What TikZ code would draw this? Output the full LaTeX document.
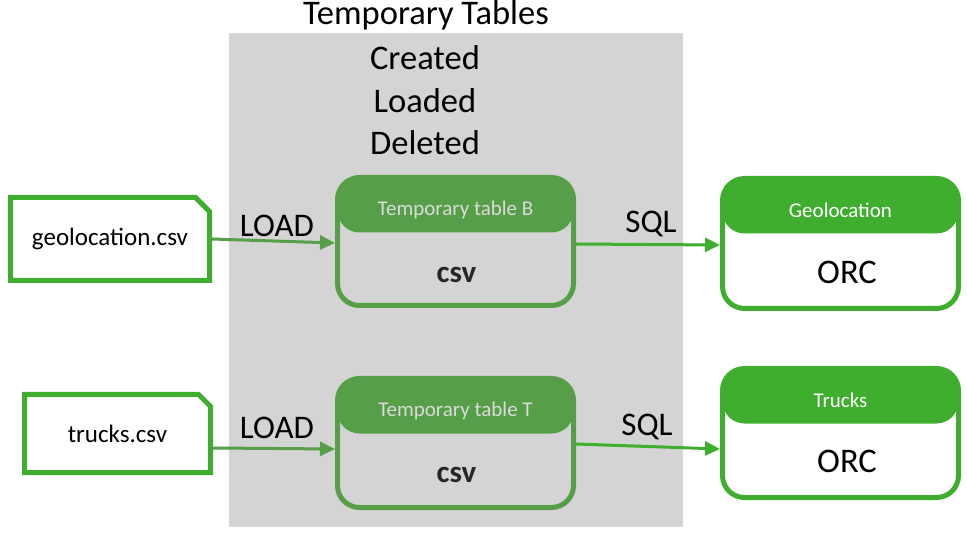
\documentclass[tikz,border=0pt]{standalone}
\usepackage{fontspec}
\setmainfont{Carlito}
\usetikzlibrary{shapes.misc,arrows.meta}
\definecolor{brightgreen}{HTML}{3FAE2E}
\definecolor{mutedgreen}{HTML}{569E48}
\definecolor{panelgray}{HTML}{D4D4D4}
\definecolor{headtext}{HTML}{DADADA}
\tikzset{
  filebox/.style={chamfered rectangle, chamfered rectangle corners=north east,
    chamfered rectangle xsep=15pt, draw=brightgreen, line width=5pt, fill=white,
    font=\fontsize{25}{30}\selectfont, inner sep=0pt},
  tablebox/.style 2 args={rectangle, rounded corners=22pt, draw=#1, line width=5pt,
    fill=#2, minimum width=236pt, minimum height=129pt, inner sep=0pt,
    path picture={\fill[#1] (path picture bounding box.north west) rectangle
      ([yshift=-55pt]path picture bounding box.north east);}},
  headlabel/.style={font=\fontsize{21}{25}\selectfont},
  bodylabel/.style={font=\fontsize{34.5}{40}\selectfont},
  csvlabel/.style={font=\bfseries\fontsize{31}{36}\selectfont, text=black!85},
  bigtext/.style={font=\fontsize{34.5}{40}\selectfont},
  flowlabel/.style={font=\fontsize{33}{38}\selectfont},
  loadarrow/.style={draw=mutedgreen, line width=3pt, -{Triangle[length=15pt,width=14pt]}},
  sqlarrow/.style={draw=brightgreen, line width=3pt, -{Triangle[length=15pt,width=14pt]}},
}
\begin{document}
\begin{tikzpicture}[x=1pt,y=-1pt]
\useasboundingbox (0,0) rectangle (967,537);
\fill[white] (0,0) rectangle (967,537);
% panel
\fill[panelgray] (229,33) rectangle (683,527);
\node[bigtext] (title) at (426,15) {Temporary Tables};
\node[bigtext] (created) at (425,58) {Created};
\node[bigtext] (loaded) at (425,101) {Loaded};
\node[bigtext] (deleted) at (425,143) {Deleted};
% file boxes
\node[filebox, minimum width=199pt, minimum height=83pt] (geofile) at (110,239) {geolocation.csv};
\node[filebox, minimum width=186pt, minimum height=78pt] (truckfile) at (117.5,433.5) {trucks.csv};
% temporary tables
\node[tablebox={mutedgreen}{panelgray}, minimum height=128pt] (tb) at (455.5,241.5) {};
\node[headlabel, text=headtext] (tbhead) at (455.5,210) {Temporary table B};
\node[csvlabel] (tbbody) at (456.5,275) {csv};
\node[tablebox={mutedgreen}{panelgray}] (tt) at (455.5,443) {};
\node[headlabel, text=headtext] (tthead) at (455.5,411) {Temporary table T};
\node[csvlabel] (ttbody) at (456.5,475) {csv};
% ORC tables
\node[tablebox={brightgreen}{white}, minimum height=130pt] (geo) at (840.5,243.5) {};
\node[headlabel, text=white] (geohead) at (840.5,210) {Geolocation};
\node[bodylabel] (geobody) at (847,272) {ORC};
\node[tablebox={brightgreen}{white}] (trucks) at (840.5,433) {};
\node[headlabel, text=white] (truckshead) at (840.5,400) {Trucks};
\node[bodylabel] (trucksbody) at (847,461) {ORC};
% arrows
\draw[loadarrow] (geofile.east) -- ([yshift=-1.5pt]tb.west);
\draw[loadarrow] ([yshift=-14.5pt]truckfile.east) -- ([yshift=-6pt]tt.west);
\draw[sqlarrow] ([yshift=-2.5pt]tb.east) -- ([yshift=-1.5pt]geo.west);
\draw[sqlarrow] ([yshift=-1pt]tt.east) -- ([yshift=-16pt]trucks.west);
% labels
\node[flowlabel] (load1) at (277,226) {LOAD};
\node[flowlabel] (load2) at (277,428) {LOAD};
\node[flowlabel] (sql1) at (651,224) {SQL};
\node[flowlabel] (sql2) at (647,427) {SQL};
\end{tikzpicture}
\end{document}
